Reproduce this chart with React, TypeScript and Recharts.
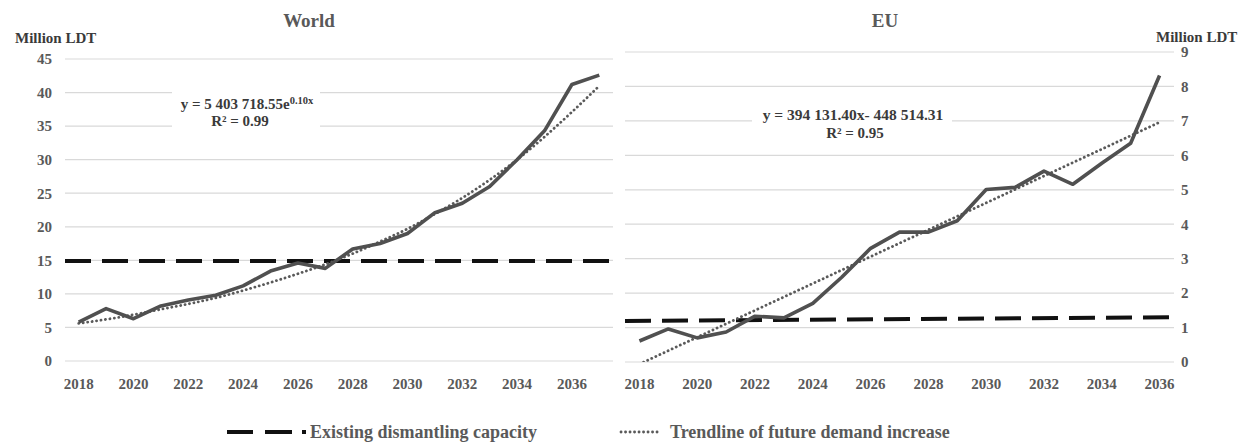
import React from 'react';
import { LineChart, Line, XAxis, YAxis, CartesianGrid, ReferenceLine } from 'recharts';

/* ── Data ───────────────────────────────────────────────────────── */
const worldYears = [
  2018, 2019, 2020, 2021, 2022, 2023, 2024, 2025, 2026, 2027,
  2028, 2029, 2030, 2031, 2032, 2033, 2034, 2035, 2036, 2037,
];
const worldDemand = [
  5.8, 7.8, 6.3, 8.2, 9.1, 9.8, 11.2, 13.4, 14.6, 13.8,
  16.7, 17.5, 19.0, 22.1, 23.5, 26.0, 30.0, 34.3, 41.2, 42.6,
];
const worldTrend = [
  5.6, 6.2, 6.9, 7.7, 8.5, 9.4, 10.5, 11.7, 13.0, 14.4,
  16.0, 17.8, 19.7, 21.9, 24.3, 27.0, 30.0, 33.4, 37.1, 41.0,
];
const worldCapacity = 14.9;
const worldYTicks = [0, 5, 10, 15, 20, 25, 30, 35, 40, 45];
const worldYearDomain = [2017.5, 2037.5];

const euYears = [
  2018, 2019, 2020, 2021, 2022, 2023, 2024, 2025, 2026, 2027,
  2028, 2029, 2030, 2031, 2032, 2033, 2034, 2035, 2036,
];
const euDemand = [
  0.61, 0.96, 0.7, 0.87, 1.33, 1.28, 1.7, 2.46, 3.3, 3.77,
  3.77, 4.1, 5.01, 5.07, 5.54, 5.16, 5.77, 6.35, 8.32,
];
// linear trendline, drawn between its two ends
const euTrendYears = [2018, 2036];
const euTrend = [-0.06, 6.96];
// capacity at the left and right edge of the year axis
const euCapacity = [1.19, 1.3];
const euYTicks = [0, 1, 2, 3, 4, 5, 6, 7, 8, 9];
const euYearDomain = [2017.5, 2036.5];

const yearTicks = [2018, 2020, 2022, 2024, 2026, 2028, 2030, 2032, 2034, 2036];

const worldRows = worldYears.map((year, i) => ({
  year,
  demand: worldDemand[i],
  trend: worldTrend[i],
}));
const euRows = euYears.map((year, i) => ({ year, demand: euDemand[i] }));
const euTrendRows = euTrendYears.map((year, i) => ({ year, trend: euTrend[i] }));

/* ── Styles ─────────────────────────────────────────────────────── */
const serif = "'Liberation Serif', 'DejaVu Serif', serif";
const colors = {
  demand: '#505050',
  trend: '#5a5a5a',
  capacity: '#111111',
  grid: '#d9d9d9',
  tick: '#595959',
  label: '#3a3a3a',
};
const tick = { fontFamily: serif, fontSize: 15, fontWeight: 700, fill: colors.tick };

const demandLine = {
  type: 'linear' as const,
  stroke: colors.demand,
  strokeWidth: 3.6,
  strokeLinejoin: 'round' as const,
  dot: false,
  activeDot: false,
  isAnimationActive: false,
};
const trendLine = {
  type: 'monotone' as const,
  stroke: colors.trend,
  strokeWidth: 2.8,
  strokeDasharray: '0.1 4.4',
  strokeLinecap: 'round' as const,
  dot: false,
  activeDot: false,
  isAnimationActive: false,
};
const capacityLine = {
  stroke: colors.capacity,
  strokeWidth: 4,
  strokeDasharray: '26 11',
};

/* ── Panels ─────────────────────────────────────────────────────── */
const WorldPanel = () => (
  <LineChart
    width={620}
    height={400}
    data={worldRows}
    margin={{ top: 59, right: 7, bottom: 0, left: 0 }}
  >
    <CartesianGrid vertical={false} stroke={colors.grid} strokeWidth={1.2} />
    <XAxis
      dataKey="year"
      type="number"
      domain={worldYearDomain}
      ticks={yearTicks}
      interval={0}
      height={39}
      axisLine={false}
      tickLine={false}
      tickSize={0}
      tickMargin={17}
      tick={tick}
    />
    <YAxis
      domain={[0, 45]}
      ticks={worldYTicks}
      width={65}
      axisLine={false}
      tickLine={false}
      tickSize={0}
      tickMargin={13}
      tick={tick}
    />
    <ReferenceLine y={worldCapacity} {...capacityLine} />
    <Line dataKey="trend" {...trendLine} />
    <Line dataKey="demand" {...demandLine} />
  </LineChart>
);

const EuPanel = () => (
  <LineChart
    width={632}
    height={400}
    data={euRows}
    margin={{ top: 52, right: 0, bottom: 0, left: 5 }}
  >
    <CartesianGrid vertical={false} stroke={colors.grid} strokeWidth={1.2} />
    <XAxis
      dataKey="year"
      type="number"
      domain={euYearDomain}
      ticks={yearTicks}
      interval={0}
      height={38}
      axisLine={false}
      tickLine={false}
      tickSize={0}
      tickMargin={16}
      tick={tick}
    />
    <YAxis
      orientation="right"
      domain={[0, 9]}
      ticks={euYTicks}
      allowDataOverflow
      width={78}
      axisLine={false}
      tickLine={false}
      tickSize={0}
      tickMargin={7}
      tick={tick}
    />
    <ReferenceLine
      segment={[
        { x: euYearDomain[0], y: euCapacity[0] },
        { x: euYearDomain[1], y: euCapacity[1] },
      ]}
      {...capacityLine}
    />
    <Line data={euTrendRows} dataKey="trend" {...trendLine} type="linear" />
    <Line dataKey="demand" {...demandLine} />
  </LineChart>
);

/* ── Titles, equations and legend ──────────────────────────────── */
const Overlay = () => (
  <svg
    width={1252}
    height={443}
    style={{ position: 'absolute', left: 0, top: 0, pointerEvents: 'none' }}
    fontFamily={serif}
    fontWeight={700}
  >
    <text x={309} y={27} fontSize={19} fill={colors.tick} textAnchor="middle">World</text>
    <text x={885} y={27} fontSize={19} fill={colors.tick} textAnchor="middle">EU</text>
    <text x={15} y={43} fontSize={15} fill={colors.label}>Million LDT</text>
    <text x={1156} y={42} fontSize={15} fill={colors.label}>Million LDT</text>

    <rect x={172} y={88} width={148} height={44} fill="#ffffff" />
    <text x={247} y={109} fontSize={15} fill={colors.label} textAnchor="middle">
      y = 5 403 718.55e
      <tspan fontSize={10.5} dy={-5}>0.10x</tspan>
    </text>
    <text x={240} y={126} fontSize={15} fill={colors.label} textAnchor="middle">
      R² = 0.99
    </text>

    <rect x={752} y={100} width={200} height={42} fill="#ffffff" />
    <text x={853} y={120} fontSize={15.5} fill={colors.label} textAnchor="middle">
      y = 394 131.40x- 448 514.31
    </text>
    <text x={855} y={137.5} fontSize={15} fill={colors.label} textAnchor="middle">
      R² = 0.95
    </text>

    <g stroke={colors.capacity} strokeWidth={4}>
      <line x1={227} y1={432} x2={253} y2={432} />
      <line x1={265} y1={432} x2={292} y2={432} />
      <line x1={302} y1={432} x2={306} y2={432} />
    </g>
    <text x={310} y={438} fontSize={18} fill={colors.tick}>Existing dismantling capacity</text>

    <line
      x1={621}
      y1={432}
      x2={658}
      y2={432}
      stroke={colors.trend}
      strokeWidth={2.8}
      strokeDasharray="0.1 4.4"
      strokeLinecap="round"
    />
    <text x={670} y={438} fontSize={18} fill={colors.tick}>Trendline of future demand increase</text>
  </svg>
);

export default function App() {
  return (
    <div
      style={{
        position: 'absolute',
        left: 0,
        top: 0,
        width: 1252,
        height: 443,
        background: '#ffffff',
        overflow: 'hidden',
      }}
    >
      <div style={{ position: 'absolute', left: 0, top: 0 }}>
        <WorldPanel />
      </div>
      <div style={{ position: 'absolute', left: 620, top: 0 }}>
        <EuPanel />
      </div>
      <Overlay />
    </div>
  );
}
